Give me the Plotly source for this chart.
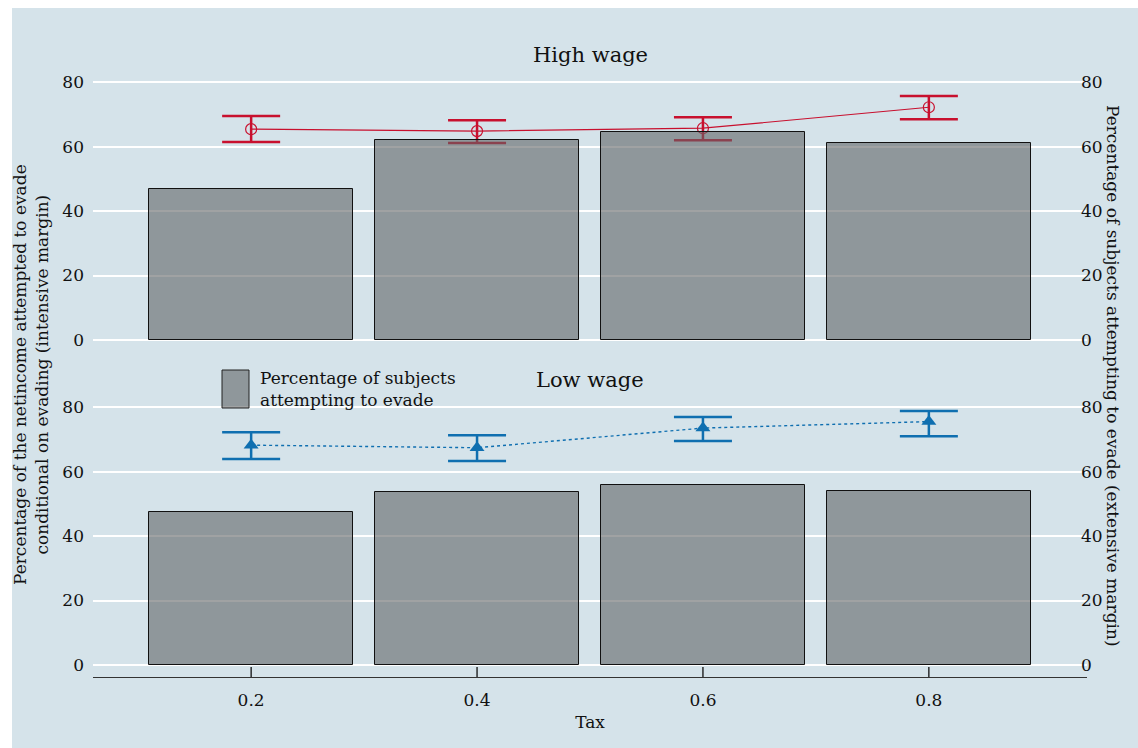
import plotly.graph_objects as go

# Tax rates (categories on the x axis)
tax = [0.2, 0.4, 0.6, 0.8]
tax_labels = ["0.2", "0.4", "0.6", "0.8"]

# High wage: share of subjects attempting to evade (bars, extensive margin)
high_share = [46.8, 62.0, 64.5, 61.1]
# High wage: % of net income evaded, conditional on evading (intensive margin)
high_mean = [65.4, 64.8, 65.7, 72.2]
high_hi = [69.5, 68.2, 69.1, 75.7]
high_lo = [61.4, 61.1, 62.0, 68.5]

# Low wage
low_share = [47.4, 53.6, 55.8, 54.0]
low_mean = [68.2, 67.4, 73.5, 75.5]
low_hi = [72.2, 71.3, 76.9, 78.8]
low_lo = [63.9, 63.3, 69.5, 71.0]

BG = "#d5e3ea"
BAR = "rgba(96,100,101,0.6)"
RED = "#c8102e"
BLUE = "#0f6fb0"
FONT = "DejaVu Serif"
TXT = "#111"

W, H = 1138, 748
ML, MR, MT, MB = 93, 51, 66, 71
PW, PH = W - ML - MR, H - MT - MB


def px_x(p):
    return (p - ML) / PW


def px_y(p):
    return (H - MB - p) / PH


def err(hi, lo, mean):
    return dict(
        type="data", symmetric=False,
        array=[h - m for h, m in zip(hi, mean)],
        arrayminus=[m - l for m, l in zip(mean, lo)],
        width=29, thickness=2.5,
    )


fig = go.Figure()

# top panel: means on left axis, semi-transparent bars on right axis (drawn on top)
fig.add_trace(go.Scatter(x=tax, y=high_mean, mode="lines+markers", xaxis="x2", yaxis="y",
                         line=dict(color=RED, width=1.2),
                         marker=dict(symbol="circle-open", size=11, color=RED, line=dict(width=1.2)),
                         error_y=dict(err(high_hi, high_lo, high_mean), color=RED), showlegend=False))
fig.add_trace(go.Bar(x=tax, y=high_share, width=0.18, marker=dict(color=BAR, line=dict(color="#111", width=1)),
                     xaxis="x2", yaxis="y2", showlegend=False))

# bottom panel
fig.add_trace(go.Scatter(x=tax, y=low_mean, mode="lines+markers", xaxis="x", yaxis="y3",
                         line=dict(color=BLUE, width=1.4, dash="dot"),
                         marker=dict(symbol="triangle-up", size=13, color=BLUE),
                         error_y=dict(err(low_hi, low_lo, low_mean), color=BLUE), showlegend=False))
fig.add_trace(go.Bar(x=tax, y=low_share, width=0.18, marker=dict(color=BAR, line=dict(color="#111", width=1)),
                     xaxis="x", yaxis="y4", showlegend=False))

yr = [-3.72, 85]
ticks = [0, 20, 40, 60, 80]
left_y = dict(range=yr, tickvals=ticks, showgrid=True, gridcolor="white", gridwidth=2,
              zeroline=False, showline=False, ticks="", ticklabelstandoff=8,
              tickfont=dict(family=FONT, size=17, color=TXT))
right_y = dict(range=yr, tickvals=ticks, showgrid=False, zeroline=False, showline=False,
               ticks="", side="right", anchor="free", position=0.993, ticklabelstandoff=0,
               tickfont=dict(family=FONT, size=17, color=TXT))

top_dom = [px_y(352), 1]
bot_dom = [0, px_y(391)]

fig.update_layout(
    width=W, height=H,
    margin=dict(l=ML, r=MR, t=MT, b=MB),
    paper_bgcolor=BG, plot_bgcolor=BG,
    bargap=0,
    xaxis=dict(range=[0.06, 0.94], tickvals=tax, ticktext=tax_labels, anchor="y3",
               showline=True, linecolor="#333", linewidth=1, ticks="",
               showgrid=False, zeroline=False, ticklabelstandoff=8,
               tickfont=dict(family=FONT, size=17, color=TXT),
               title=dict(text="Tax", font=dict(family=FONT, size=17, color=TXT), standoff=6)),
    xaxis2=dict(range=[0.06, 0.94], anchor="y", showticklabels=False, showgrid=False,
                zeroline=False, showline=False),
    yaxis=dict(left_y, domain=top_dom, anchor="x2"),
    yaxis2=dict(right_y, overlaying="y"),
    yaxis3=dict(left_y, domain=bot_dom, anchor="x"),
    yaxis4=dict(right_y, overlaying="y3"),
    font=dict(family=FONT, color=TXT),
)

# upward tick marks on the tax axis
for t in tax:
    fig.add_shape(type="line", xref="x", yref="paper", x0=t, x1=t, y0=0, y1=px_y(667),
                  line=dict(color="#111", width=1.3))

# white strips at the left and top page edges
fig.add_shape(type="rect", xref="paper", yref="paper", x0=px_x(0), x1=px_x(12), y0=px_y(H), y1=px_y(0),
              fillcolor="white", line_width=0, layer="below")
fig.add_shape(type="rect", xref="paper", yref="paper", x0=px_x(0), x1=px_x(W), y0=px_y(8), y1=px_y(0),
              fillcolor="white", line_width=0, layer="below")

# legend key for the bars
fig.add_shape(type="rect", xref="paper", yref="paper", x0=px_x(222), x1=px_x(249), y0=px_y(408), y1=px_y(370),
              fillcolor=BAR, line=dict(color="#222", width=1))
fig.add_annotation(xref="paper", yref="paper", x=px_x(258), y=px_y(389), xanchor="left", yanchor="middle",
                   align="left", showarrow=False, text="Percentage of subjects<br>attempting to evade",
                   font=dict(family=FONT, size=17, color=TXT))

# panel titles
fig.add_annotation(xref="paper", yref="paper", x=0.5, y=px_y(55), xanchor="center", yanchor="middle",
                   showarrow=False, text="High wage", font=dict(family=FONT, size=21, color=TXT))
fig.add_annotation(xref="paper", yref="paper", x=0.5, y=px_y(380), xanchor="center", yanchor="middle",
                   showarrow=False, text="Low wage", font=dict(family=FONT, size=21, color=TXT))

# axis titles
fig.add_annotation(xref="paper", yref="paper", x=px_x(31), y=px_y(375), xanchor="center", yanchor="middle",
                   showarrow=False, textangle=-90,
                   text="Percentage of the netincome attempted to evade<br>conditional on evading (intensive margin)",
                   font=dict(family=FONT, size=17, color=TXT))
fig.add_annotation(xref="paper", yref="paper", x=px_x(1113), y=px_y(376), xanchor="center", yanchor="middle",
                   showarrow=False, textangle=90,
                   text="Percentage of subjects attempting to evade (extensive margin)",
                   font=dict(family=FONT, size=17, color=TXT))

fig.write_html("out.html")
